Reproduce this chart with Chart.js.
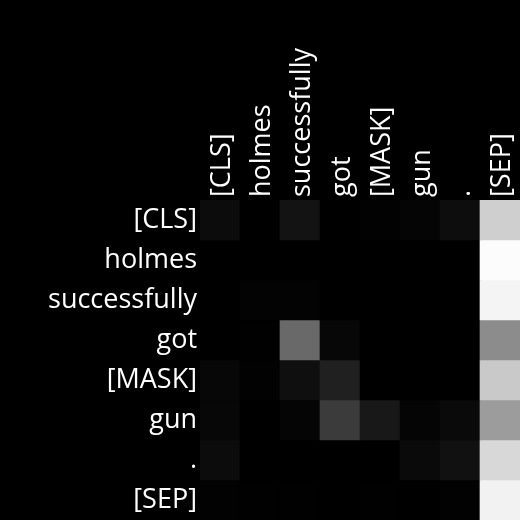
<!DOCTYPE html>
<html>
<head>
<meta charset="utf-8">
<script src="https://cdn.jsdelivr.net/npm/chart.js@4"></script>
<style>
html,body{margin:0;padding:0;background:#000;}
#wrap{width:520px;height:520px;}
</style>
</head>
<body>
<div id="wrap"><canvas id="c" width="520" height="520"></canvas></div>
<script>
const tokens = ["[CLS]", "holmes", "successfully", "got", "[MASK]", "gun", ".", "[SEP]"];
const rowLabels = tokens;
const colLabels = tokens;
// attention weights (rows = query token, columns = key token), read as grey level 0..1
const rowCLS   = [0.047, 0.000, 0.075, 0.000, 0.008, 0.020, 0.051, 0.812];
const rowHolm  = [0.000, 0.000, 0.000, 0.000, 0.000, 0.000, 0.000, 0.988];
const rowSucc  = [0.000, 0.012, 0.012, 0.000, 0.000, 0.000, 0.000, 0.957];
const rowGot   = [0.000, 0.004, 0.412, 0.027, 0.000, 0.000, 0.000, 0.549];
const rowMask  = [0.027, 0.008, 0.059, 0.125, 0.000, 0.000, 0.000, 0.788];
const rowGun   = [0.027, 0.000, 0.020, 0.231, 0.094, 0.020, 0.039, 0.612];
const rowDot   = [0.047, 0.000, 0.000, 0.000, 0.000, 0.039, 0.067, 0.847];
const rowSEP   = [0.008, 0.004, 0.004, 0.000, 0.004, 0.000, 0.008, 0.949];
const weights = [rowCLS, rowHolm, rowSucc, rowGot, rowMask, rowGun, rowDot, rowSEP];

function grey(v){ const g = Math.round(v*255); return `rgb(${g},${g},${g})`; }

const datasets = weights.map((row, i) => ({
  label: rowLabels[i],
  data: colLabels.map(() => 1),
  backgroundColor: row.map(grey),
  borderWidth: 0,
  barPercentage: 1,
  categoryPercentage: 1,
  yAxisID: 'y'
}));

const FONT = {family: "'Open Sans', 'Noto Sans', sans-serif", size: 27};
const GRID = {display: false, drawTicks: false, tickLength: 0};

new Chart(document.getElementById('c'), {
  type: 'bar',
  data: {labels: colLabels, datasets},
  options: {
    responsive: false,
    animation: false,
    layout: {padding: 0},
    plugins: {legend: {display: false}, tooltip: {enabled: false}},
    scales: {
      x: {
        type: 'category',
        position: 'top',
        stacked: true,
        offset: true,
        grid: GRID,
        border: {display: false},
        ticks: {color: '#fff', font: FONT, minRotation: 90, maxRotation: 90, padding: 3, labelOffset: 35, autoSkip: false},
        afterFit: s => { s.height = 200; s.paddingLeft = 0; s.paddingRight = 0; }
      },
      y: {
        type: 'linear',
        stacked: true,
        display: false,
        reverse: true,
        min: 0,
        max: rowLabels.length
      },
      rows: {
        type: 'category',
        labels: rowLabels,
        position: 'left',
        offset: true,
        grid: GRID,
        border: {display: false},
        ticks: {color: '#fff', font: FONT, padding: 3, autoSkip: false},
        afterFit: s => { s.width = 200; s.paddingTop = 0; s.paddingBottom = 0; }
      }
    }
  }
});
</script>
</body>
</html>
